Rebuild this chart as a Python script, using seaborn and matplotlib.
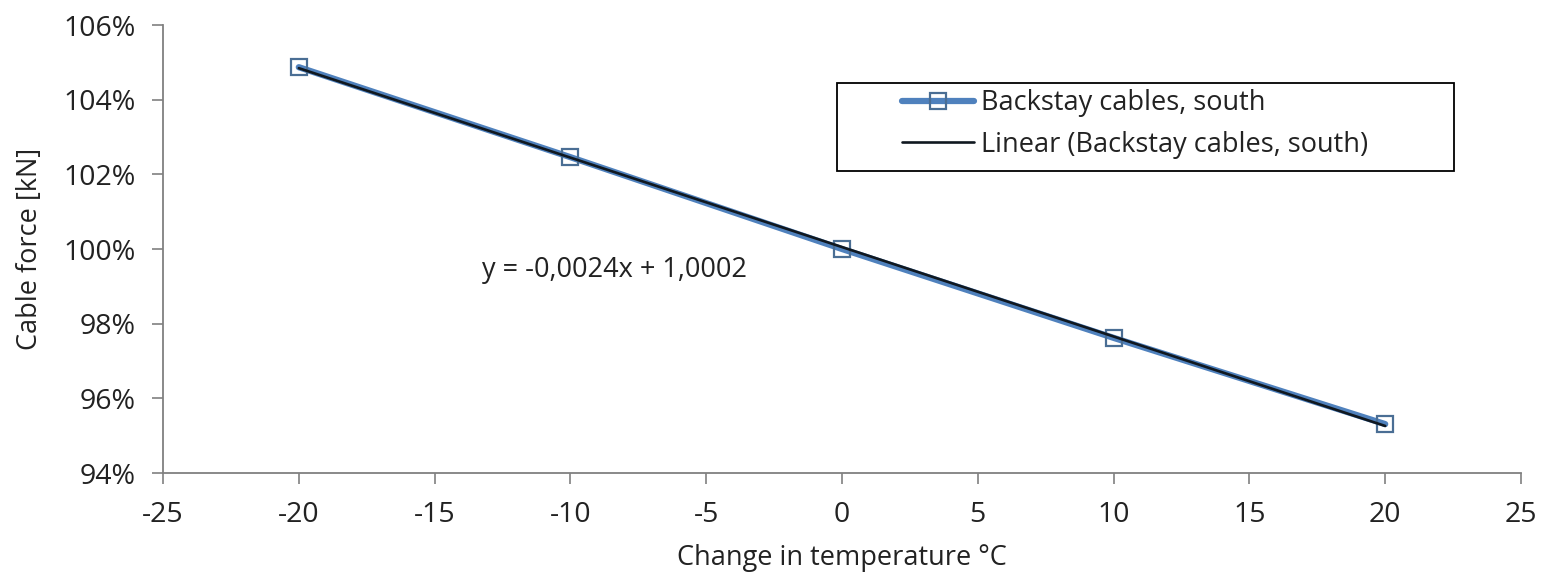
import numpy as np
import matplotlib
matplotlib.use("Agg")
import matplotlib.pyplot as plt
import seaborn as sns
from matplotlib.patches import Rectangle
from matplotlib.ticker import PercentFormatter

temp_change = [-20, -10, 0, 10, 20]
cable_force = [1.0487, 1.0246, 1.0000, 0.9762, 0.9531]
x_ticks = [-25, -20, -15, -10, -5, 0, 5, 10, 15, 20, 25]
y_ticks = [0.94, 0.96, 0.98, 1.00, 1.02, 1.04, 1.06]

sns.set_theme(style="white")
plt.rcParams["font.family"] = ["Open Sans", "DejaVu Sans"]
plt.rcParams["axes.unicode_minus"] = False

fig = plt.figure(figsize=(15.43, 5.76), dpi=100)
ax = fig.add_axes([163 / 1543, 1 - 473 / 576, 1358 / 1543, 448 / 576])

sns.lineplot(x=temp_change, y=cable_force, ax=ax, color="#4F81BD", linewidth=4.5,
             marker="s", markersize=11, markerfacecolor="none",
             markeredgecolor="#4A6E94", markeredgewidth=1.6,
             label="Backstay cables, south")

# linear trend line through the points
slope, intercept = np.polyfit(temp_change, cable_force, 1)
fit_x = np.array([temp_change[0], temp_change[-1]])
sns.lineplot(x=fit_x, y=slope * fit_x + intercept, ax=ax, color="#101820",
             linewidth=1.9, label="Linear (Backstay cables, south)")

ax.text(-13.25, 0.9944, "y = -0,0024x + 1,0002", fontsize=19.5, color="#222222",
        va="center")

ax.set_xlim(-25, 25)
ax.set_ylim(0.94, 1.06)
ax.set_xticks(x_ticks)
ax.set_yticks(y_ticks)
ax.yaxis.set_major_formatter(PercentFormatter(1.0, decimals=0))
ax.tick_params(axis="both", labelsize=20.5, colors="#222222", length=8,
               width=1.2, direction="out", bottom=True, left=True, color="#808080",
               pad=12)
ax.set_xlabel("Change in temperature °C", fontsize=19.5, color="#222222")
ax.set_ylabel("Cable force [kN]", fontsize=19.5, color="#222222")
ax.xaxis.set_label_coords(0.5, -(558 - 473) / 448)
ax.xaxis.label.set_va("center")
ax.yaxis.set_label_coords(-(163 - 30) / 1358, 0.5)
ax.yaxis.label.set_va("center")
sns.despine(ax=ax)
for side in ["left", "bottom"]:
    ax.spines[side].set_color("#808080")
    ax.spines[side].set_linewidth(1.3)

leg = ax.legend(loc="upper left", bbox_to_anchor=((902 - 163) / 1358, (473 - 89) / 448),
                fontsize=19.5, frameon=False, handlelength=2.65, borderpad=0,
                labelspacing=0.5, handletextpad=0.25, borderaxespad=0)
for t in leg.get_texts():
    t.set_color("#222222")
ax.add_patch(Rectangle(((837 - 163) / 1358, (473 - 171) / 448), 617 / 1358, 88 / 448,
                       transform=ax.transAxes, fill=False, edgecolor="black",
                       linewidth=1.3, clip_on=False, zorder=5))

fig.savefig("out.png", dpi=100)
